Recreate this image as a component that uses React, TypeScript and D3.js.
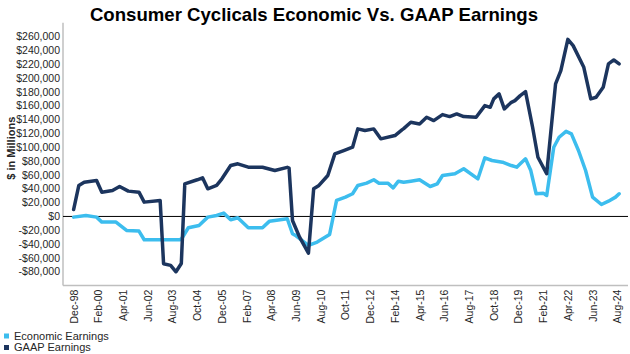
import * as d3 from "d3";
import React from "react";

const gaapDates = [
  "1998-12", "1999-03", "1999-06", "2000-01", "2000-04", "2000-10", "2001-02", "2001-07",
  "2002-01", "2002-04", "2003-01", "2003-03", "2003-07", "2003-10", "2004-01", "2004-03",
  "2004-10", "2005-01", "2005-04", "2005-09", "2005-12", "2006-05", "2006-09", "2007-03",
  "2007-11", "2008-06", "2009-01", "2009-02", "2009-04", "2009-08", "2010-01", "2010-04",
  "2010-07", "2010-12", "2011-04", "2011-09", "2012-02", "2012-05", "2012-09", "2013-02",
  "2013-06", "2014-02", "2014-06", "2014-07", "2014-11", "2015-04", "2015-08", "2015-12",
  "2016-05", "2016-09", "2017-01", "2017-05", "2017-12", "2018-05", "2018-08", "2018-10",
  "2019-01", "2019-04", "2019-08", "2019-10", "2020-01", "2020-04", "2020-08", "2020-11",
  "2021-04", "2021-09", "2021-12", "2022-04", "2022-07", "2023-01", "2023-05", "2023-08",
  "2023-12", "2024-03", "2024-06", "2024-09",
];
const gaapValues = [
  10000, 44800, 49500, 52000, 35100, 37500, 43300, 36600,
  35100, 20700, 23100, -68300, -70700, -80000, -68000, 47200,
  53000, 55900, 40000, 44800, 54400, 73600, 76100, 71200,
  71200, 66400, 71000, 70000, -5800, -29900, -53000, 40000,
  44800, 59200, 90500, 95300, 100100, 126600, 124200, 126600,
  112200, 117000, 125200, 127000, 136200, 133800, 143400, 138600,
  147300, 144400, 148300, 144400, 143400, 160300, 157800, 170000,
  177200, 155500, 165000, 167500, 174700, 180500, 129000, 85600,
  61700, 191600, 210800, 256000, 247000, 215600, 170000, 172300,
  186700, 220500, 226300, 220500,
];

const econDates = [
  "1998-12", "1999-07", "2000-01", "2000-04", "2000-12", "2001-06", "2002-01", "2002-04",
  "2003-01", "2003-12", "2004-01", "2004-05", "2004-11", "2005-04", "2005-09", "2006-01",
  "2006-05", "2006-09", "2007-03", "2007-11", "2008-03", "2008-06", "2009-01", "2009-04",
  "2009-06", "2010-01", "2010-06", "2011-01", "2011-05", "2011-10", "2012-02", "2012-05",
  "2012-10", "2013-02", "2013-05", "2013-10", "2014-01", "2014-04", "2014-07", "2014-11",
  "2015-04", "2015-10", "2016-02", "2016-05", "2016-12", "2017-05", "2018-01", "2018-05",
  "2018-09", "2019-03", "2019-08", "2019-11", "2020-01", "2020-04", "2020-07", "2020-10",
  "2021-02", "2021-04", "2021-08", "2021-11", "2022-03", "2022-06", "2022-10", "2023-02",
  "2023-06", "2023-11", "2024-03", "2024-07", "2024-09",
];
const econValues = [
  -1000, 1400, -1000, -8200, -8200, -20200, -21200, -33700,
  -33700, -33700, -33000, -16400, -13000, -1000, 1400, 4800,
  -4800, -1900, -16400, -16400, -6800, -5800, -3300, -25000,
  -28000, -41900, -37100, -26000, 23100, 27900, 32800, 44800,
  48100, 53000, 48100, 48100, 41400, 51000, 49500, 51000,
  53000, 43300, 47200, 59200, 61700, 68900, 54400, 84800,
  80900, 78400, 73600, 71200, 76100, 83300, 66400, 32800,
  33700, 30300, 100100, 114500, 123000, 119400, 95300, 66400,
  27900, 17300, 22100, 27900, 32800,
];

const xTickLabels = [
  "Dec-98", "Feb-00", "Apr-01", "Jun-02", "Aug-03", "Oct-04", "Dec-05", "Feb-07",
  "Apr-08", "Jun-09", "Aug-10", "Oct-11", "Dec-12", "Feb-14", "Apr-15", "Jun-16",
  "Aug-17", "Oct-18", "Dec-19", "Feb-21", "Apr-22", "Jun-23", "Aug-24",
];
const yTicks = d3.range(-80000, 260001, 20000);

const seriesNames = ["Economic Earnings", "GAAP Earnings"];
const colors = ["#3cbdee", "#1c355e"];

const parseMonth = d3.timeParse("%Y-%m");
const parseTick = d3.timeParse("%b-%y");
const fmt = (v: number) => (v < 0 ? "-$" : "$") + d3.format(",")(Math.abs(v));

export default function App() {
  const width = 630;
  const height = 354;
  const left = 63;
  const right = 628;
  const top = 22.8;
  const bottom = 285.6;

  const x = d3
    .scaleTime()
    .domain([new Date(1998, 5, 1), new Date(2025, 1, 1)])
    .range([left, right]);
  const y = d3.scaleLinear().domain([-100000, 280000]).range([bottom, top]);

  const line = d3
    .line<[Date, number]>()
    .x((d) => x(d[0]))
    .y((d) => y(d[1]));

  const econ = econDates.map((d, i) => [parseMonth(d)!, econValues[i]] as [Date, number]);
  const gaap = gaapDates.map((d, i) => [parseMonth(d)!, gaapValues[i]] as [Date, number]);

  const font = "'Liberation Sans', Arial, sans-serif";

  return (
    <svg
      width={width}
      height={height}
      style={{ position: "absolute", left: 0, top: 0, background: "#fff" }}
      fontFamily={font}
    >
      <text x={314} y={21} textAnchor="middle" fontSize={18.6} fontWeight="bold" fill="#000">
        Consumer Cyclicals Economic Vs. GAAP Earnings
      </text>

      {/* y axis */}
      <line x1={left} x2={left} y1={top} y2={bottom} stroke="#bfbfbf" strokeWidth={1.5} />
      {yTicks.map((t) => (
        <text key={t} x={60} y={y(t)} dy="0.35em" textAnchor="end" fontSize={10.5} fill="#262626">
          {fmt(t)}
        </text>
      ))}
      <text
        transform={`translate(15,${(top + bottom) / 2 - 6}) rotate(-90)`}
        textAnchor="middle"
        fontSize={11}
        fontWeight="bold"
        fill="#262626"
      >
        $ in Millions
      </text>

      {/* x axis */}
      <line x1={left} x2={right} y1={bottom} y2={bottom} stroke="#bfbfbf" strokeWidth={1.5} />
      {xTickLabels.map((t) => {
        const px = x(parseTick(t)!);
        return (
          <text
            key={t}
            transform={`translate(${px + 4},${bottom + 4}) rotate(-90)`}
            textAnchor="end"
            fontSize={10.5}
            fill="#262626"
          >
            {t}
          </text>
        );
      })}

      {/* zero line */}
      <line x1={left} x2={right} y1={y(0)} y2={y(0)} stroke="#000" strokeWidth={1} />

      <path d={line(econ)!} fill="none" stroke={colors[0]} strokeWidth={3.5} strokeLinejoin="round" strokeLinecap="round" />
      <path d={line(gaap)!} fill="none" stroke={colors[1]} strokeWidth={3.5} strokeLinejoin="round" strokeLinecap="round" />

      {/* legend */}
      {seriesNames.map((name, i) => (
        <g key={name} transform={`translate(4,${336 + i * 11.5})`}>
          <rect x={0} y={-2.5} width={5} height={5} fill={colors[i]} />
          <text x={10} y={0} dy="0.35em" fontSize={11} fill="#262626">
            {name}
          </text>
        </g>
      ))}
    </svg>
  );
}
